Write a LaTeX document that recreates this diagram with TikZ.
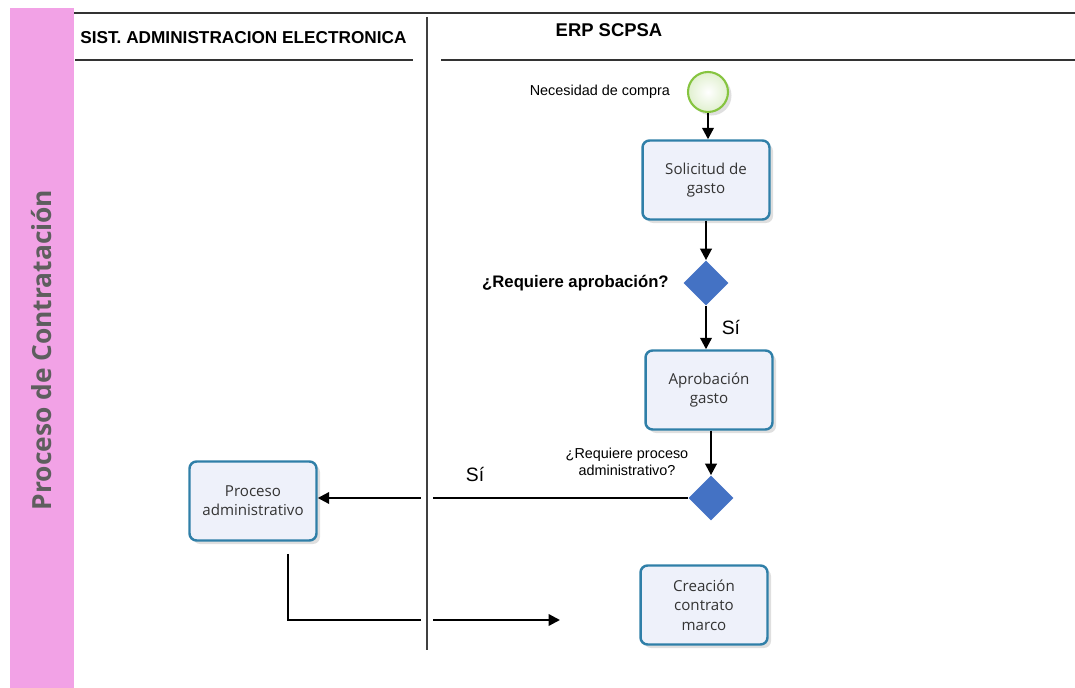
\documentclass[tikz,border=0pt]{standalone}
\usepackage{fontspec}
\setmainfont{Liberation Sans}
\newfontfamily\boxfont{Open Sans}
\usetikzlibrary{shapes.geometric,arrows.meta,shadows}
\definecolor{bandpink}{HTML}{F2A2E6}
\definecolor{boxborder}{HTML}{2F7FA8}
\definecolor{boxfill}{HTML}{EEF1FA}
\definecolor{decfill}{HTML}{4472C4}
\definecolor{startgreen}{HTML}{86C440}
\definecolor{titlegray}{HTML}{5E5E5E}
\tikzset{
  taskbox/.style={draw=boxborder, line width=1.4pt, rounded corners=4pt, fill=boxfill,
    minimum width=2.54cm, minimum height=1.58cm, align=center, inner sep=2pt,
    font=\boxfont\fontsize{8.6}{11}\selectfont, text=black!80,
    drop shadow={opacity=0.25, shadow xshift=2pt, shadow yshift=-2pt}},
  decision/.style={diamond, fill=decfill, draw=none, minimum size=0.9cm, inner sep=0pt, aspect=1},
  flow/.style={line width=1.3pt, -{Triangle[length=6.5pt,width=6.5pt]}},
  lane/.style={line width=1.3pt, black!80},
  lbl/.style={font=\fontsize{8.2}{9.5}\selectfont, inner sep=1pt},
  hdr/.style={font=\bfseries\fontsize{9.8}{11}\selectfont, inner sep=0pt}
}
\begin{document}
\begin{tikzpicture}[x=0.02cm, y=-0.02cm]
\useasboundingbox (0,0) rectangle (1075,688);
% band
\fill[bandpink] (10,8) rectangle (74,688);
\node[rotate=90, font=\boxfont\bfseries\fontsize{15}{17}\selectfont, text=titlegray] (title) at (42,350) {Proceso de Contratación};
% lane lines
\draw[lane] (74,13) -- (1075,13);
\draw[lane] (75,60) -- (413,60);
\draw[lane] (441,60) -- (1075,60);
\node[hdr, anchor=west] (lanea) at (80,38) {SIST. ADMINISTRACION ELECTRONICA};
\node[hdr, font=\bfseries\fontsize{10.5}{12}\selectfont] (laneb) at (609,30) {ERP SCPSA};
% nodes
\node[circle, draw=startgreen, line width=1.2pt, minimum size=0.8cm, inner sep=0pt,
  inner color=white, outer color=startgreen!25,
  drop shadow={opacity=0.25, shadow xshift=2pt, shadow yshift=-2pt}] (start) at (708,92) {};
\node[lbl, anchor=east] (startlbl) at (672,92) {Necesidad de compra};
\node[taskbox] (sol) at (706,180) {Solicitud de\\gasto};
\node[decision] (d1) at (706,283) {};
\node[hdr, anchor=east, font=\bfseries\fontsize{9.5}{11}\selectfont] (d1lbl) at (669,283) {¿Requiere aprobación?};
\node[taskbox] (apr) at (709,390) {Aprobación\\gasto};
\node[decision] (d2) at (711,498) {};
\node[lbl, align=center, font=\fontsize{8.2}{9.5}\selectfont] (d2lbl) at (627,462) {¿Requiere proceso\\administrativo?};
\node[taskbox] (proc) at (253,501) {Proceso\\administrativo};
\node[taskbox] (crea) at (704,605) {Creación\\contrato\\marco};
% connectors
\draw[flow] (start) -- (start.south |- sol.north);
\draw[flow] (sol.south -| d1.north) -- (d1.north);
\draw[flow] (d1.south) -- (d1.south |- apr.north) node[midway, right=5pt, font=\fontsize{11}{12}\selectfont] (si1) {Sí};
\draw[flow] (apr.south -| d2.north) -- (d2.north);
\draw[flow] (d2.west) -- (d2.west -| proc.east);
\node[font=\fontsize{11}{12}\selectfont] (si2) at (475,474) {Sí};
\coordinate (pstart) at (288,554);
\coordinate (pend) at (560,620);
\draw[flow] (pstart) |- (pend);
% divider with gaps
\draw[white, line width=7pt] (427,20) -- (427,650);
\draw[line width=0.9pt, black!75] (427,17) -- (427,650);
\end{tikzpicture}
\end{document}
